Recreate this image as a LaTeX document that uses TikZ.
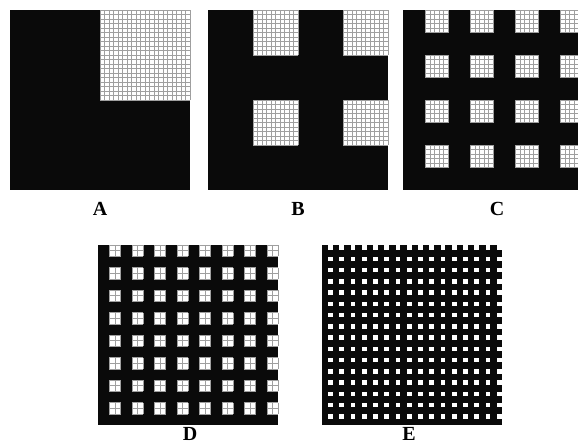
\documentclass[tikz,border=0pt]{standalone}
\usepackage{fontspec}
\setmainfont{Liberation Serif}
\usetikzlibrary{positioning}

% panel: left, top, cells per side, grid cells per hole
\newcommand{\maskpanel}[4]{%
  \fill[panelfill] (#1,#2) rectangle ++(180,180);
  \pgfmathsetmacro{\cellsize}{180/#3}
  \pgfmathtruncatemacro{\halfcells}{#3/2-1}
  \foreach \i in {0,...,\halfcells}{
    \foreach \j in {0,...,\halfcells}{
      \pgfmathsetmacro{\hx}{#1+(2*\i+1)*\cellsize}
      \pgfmathsetmacro{\hy}{#2+2*\j*\cellsize}
      \ifnum#4>1
        \fill[holefill] (\hx,\hy) rectangle ++(\cellsize,\cellsize);
        \foreach \k in {0,...,#4}{
          \draw[gridline] ({\hx+\k*\cellsize/#4},\hy) -- ++(0,\cellsize);
          \draw[gridline] (\hx,{\hy+\k*\cellsize/#4}) -- ++(\cellsize,0);
        }
      \else
        % smallest holes: plain white, a bit inset
        \fill[holefill] ({\hx+0.5},{\hy+0.3}) rectangle ++({\cellsize-1},{\cellsize-1});
      \fi
    }
  }
}

\begin{document}
\begin{tikzpicture}[
    x=1pt, y=-1pt,
    panelfill/.style={fill=black!96},
    holefill/.style={fill=white},
    gridline/.style={draw=gray!75, line width=0.5pt},
    panellabel/.style={anchor=base, font=\fontsize{20}{22}\selectfont\bfseries, inner sep=0pt}
]
\useasboundingbox (0,0) rectangle (578,445);
\clip (0,0) rectangle (578,445);

\maskpanel{10}{10}{2}{20}
\maskpanel{208}{10}{4}{10}
\maskpanel{403}{10}{8}{5}
\maskpanel{98}{245}{16}{2}
\maskpanel{322}{245}{32}{1}

\node (labelA) [panellabel] at (100,215) {A};
\node (labelB) [panellabel] at (298,215) {B};
\node (labelC) [panellabel] at (497,215) {C};
\node (labelD) [panellabel] at (190,440) {D};
\node (labelE) [panellabel] at (409,440) {E};

\end{tikzpicture}
\end{document}
